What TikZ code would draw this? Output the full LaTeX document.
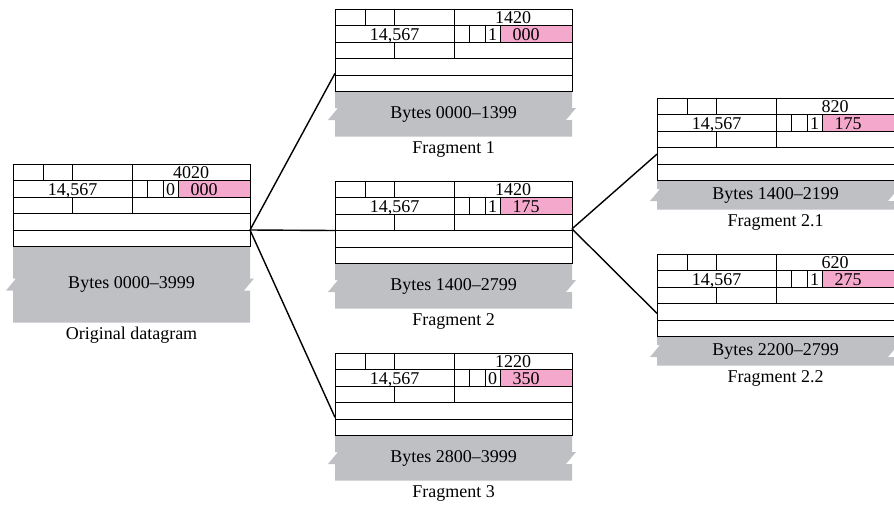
\documentclass[tikz,border=0pt]{standalone}
\usepackage{fontspec}
\setmainfont{Liberation Serif}
\usetikzlibrary{calc}
\definecolor{tornGray}{RGB}{191,192,196}
\definecolor{offPink}{RGB}{244,168,204}

% #1 name, #2/#3 top left, #4 total length, #5 M bit, #6 offset,
% #7 byte range, #8 caption, #9 height of the data part
\newcommand{\dgram}[9]{%
\begin{scope}[shift={(#2,#3)}]
  \fill[offPink] (165,16.5) rectangle (237,33);
  \fill[tornGray] (0,82.5) -- (237,82.5) -- (237,82.5+#9/2-6) -- (241,82.5+#9/2-6)
    -- (231,82.5+#9/2+6) -- (237,82.5+#9/2+6) -- (237,82.5+#9) -- (0,82.5+#9)
    -- (0,82.5+#9/2+6) -- (-7,82.5+#9/2+6) -- (3,82.5+#9/2-6) -- (0,82.5+#9/2-6) -- cycle;
  \node[hdr] (#1) at (0,0) {};
  \draw[cell] (0,16.5) -- (237,16.5) (0,33) -- (237,33) (0,49.5) -- (237,49.5) (0,66) -- (237,66)
    (30,0) -- (30,16.5) (59.5,0) -- (59.5,16.5) (59.5,33) -- (59.5,49.5) (119,0) -- (119,49.5)
    (134,16.5) -- (134,33) (150,16.5) -- (150,33) (165,16.5) -- (165,33);
  \node[fld] at (178,14) {#4};
  \node[fld] at (59.5,31.5) {14,567};
  \node[fld] at (157.5,31.5) {#5};
  \node[fld] at (191,31.5) {#6};
  \node[lbl] at (118.5,82.5+#9/2) {Bytes #7};
  \node[lbl] at (118.5,95+#9) {#8};
\end{scope}}

\begin{document}
\begin{tikzpicture}[
  x=1pt, y=-1pt,
  hdr/.style={draw, line width=1pt, anchor=north west, minimum width=237pt, minimum height=82.5pt, inner sep=0pt, outer sep=0pt},
  cell/.style={line width=1pt},
  fld/.style={anchor=base, inner sep=0pt, font=\fontsize{18}{18}\selectfont},
  lbl/.style={inner sep=0pt, font=\fontsize{18}{18}\selectfont},
  link/.style={line width=1.4pt}
]
\clip (0,0) rectangle (894,504);
\dgram{orig}{13}{164}{4020}{0}{000}{0000--3999}{Original datagram}{76}
\dgram{frag1}{335}{9}{1420}{1}{000}{0000--1399}{Fragment 1}{45}
\dgram{frag2}{335}{181}{1420}{1}{175}{1400--2799}{Fragment 2}{45}
\dgram{frag3}{335}{353}{1220}{0}{350}{2800--3999}{Fragment 3}{45}
\dgram{frag21}{657}{98}{820}{1}{175}{1400--2199}{Fragment 2.1}{29}
\dgram{frag22}{657}{254}{620}{1}{275}{2200--2799}{Fragment 2.2}{29}
% fragmentation links
\draw[link] ($(orig.north east)!0.8!(orig.south east)$) -- ($(frag1.north west)!0.78!(frag1.south west)$);
\draw[link] ($(orig.north east)!0.8!(orig.south east)$) -- ($(frag2.north west)!0.6!(frag2.south west)$);
\draw[link] ($(orig.north east)!0.8!(orig.south east)$) -- ($(frag3.north west)!0.78!(frag3.south west)$);
\draw[link] ($(frag2.north east)!0.58!(frag2.south east)$) -- ($(frag21.north west)!0.68!(frag21.south west)$);
\draw[link] ($(frag2.north east)!0.58!(frag2.south east)$) -- ($(frag22.north west)!0.72!(frag22.south west)$);
\end{tikzpicture}
\end{document}
